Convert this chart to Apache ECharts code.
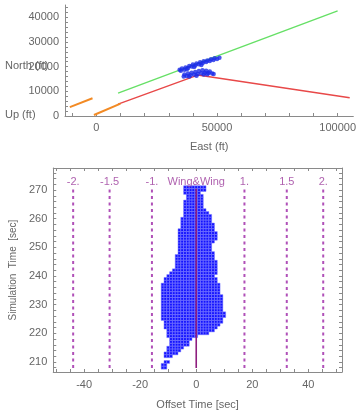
<!DOCTYPE html>
<html><head><meta charset="utf-8">
<script src="https://cdn.jsdelivr.net/npm/echarts@6/dist/echarts.min.js"></script>
<style>html,body{margin:0;padding:0;background:#fff}#c{width:359px;height:411px}</style>
</head><body><div id="c"></div>
<script>
// ---------- Top chart data (East ft, North ft) ----------
const greenTrack = [[9000, 9300], [100000, 42600]];
const redTrack = [[9000, 4800], [42000, 16600], [105000, 7400]];
const orangeLow = [[-1000, 400], [10000, 5000]];
const orangeHigh = [[-11000, 3600], [-1600, 7200]];
const blueUpper = [[34500,18800],[35000,18300],[35500,19300],[36500,18800],[37000,19700],[37500,19000],[38000,19500],[38500,20300],[39500,20100],[40000,20900],[40500,19900],[41000,20500],[41500,21300],[42500,21000],[43000,21800],[43500,20700],[44000,21400],[44500,22200],[45500,21900],[46000,22500],[47000,22300],[47500,23000],[48500,22700],[49000,23400],[50000,23100],[51000,23600]];
const blueLower = [[36200,16000],[36500,16800],[37500,16200],[38000,17200],[38500,16000],[39000,16500],[39500,17500],[40500,16800],[41000,17800],[41500,16300],[42000,17000],[42500,18200],[43500,17300],[44000,18500],[44500,16800],[45000,17500],[45500,18300],[46000,16900],[46500,17400],[47000,18000],[48000,17200],[48600,17000]];
const topXTicks = [-10000,0,10000,20000,30000,40000,50000,60000,70000,80000,90000,100000];
const topXLabels = [0, 50000, 100000];
const topYTicks = [2000,4000,6000,8000,10000,12000,14000,16000,18000,20000,22000,24000,26000,28000,30000,32000,34000,36000,38000,40000,42000,44000];
const topYLabels = [0, 10000, 20000, 30000, 40000];

// ---------- Bottom chart data ----------
// rows of the histogram: simulation time, leftmost offset cell, rightmost offset cell
const rowTime  = [271,270,269,268,267,266,265,264,263,262,261,260,259,258,257,256,255,254,253,252,251,250,249,248,247,246,245,244,243,242,241,240,239,238,237,236,235,234,233,232,231,230,229,228,227,226,225,224,223,222,221,220,219,218,217,216,215,214,213,212,210,209,208];
const rowLeft  = [-4,-4,-4,-3,-3,-4,-4,-4,-4,-4,-4,-5,-5,-5,-5,-6,-6,-6,-6,-6,-6,-6,-6,-6,-7,-7,-7,-7,-7,-8,-9,-10,-11,-11,-12,-12,-12,-12,-12,-12,-12,-12,-12,-12,-12,-12,-12,-11,-11,-11,-10,-10,-10,-9,-9,-9,-10,-10,-11,-11,-11,-12,-12];
const rowRight = [3,3,1,2,2,2,2,2,3,4,5,5,5,6,6,6,7,7,7,6,5,5,5,6,6,6,7,7,7,7,7,6,7,7,8,8,8,8,9,9,9,9,9,9,10,10,9,9,8,7,6,4,0,-2,-3,-3,-5,-6,-7,-9,-10,-11,-11];
const guideOffsets = [-43.9, -30.9, -15.8, 0, 17.2, 32.3, 45.3];
const guideLabels = ["-2.", "-1.5", "-1.", "Wing&Wing", "1.", "1.5", "2."];
const botXLabels = [-40, -20, 0, 20, 40];
const botXTicks = [-50,-45,-40,-35,-30,-25,-20,-15,-10,-5,0,5,10,15,20,25,30,35,40,45,50];
const botYLabels = [210, 220, 230, 240, 250, 260, 270];
const botYTicks = [208,210,212,214,216,218,220,222,224,226,228,230,232,234,236,238,240,242,244,246,248,250,252,254,256,258,260,262,264,266,268,270,272,274,276];

const guideTop = 270.5, guideBottom = 207.9, guideLabelY = 272.8;

const grey = '#666';
const axisLineStyle = {color: '#8a8a8a', width: 1};
const fontFam = 'Liberation Sans, Arial, sans-serif';
const plain = v => String(v);

const chart = echarts.init(document.getElementById('c'), null, {renderer: 'canvas'});

const blobData = rowTime.map((t, i) => [t, rowLeft[i], rowRight[i]]);

const series = [];
function seg(name, data, color, w) {
  series.push({type: 'line', name, xAxisIndex: 0, yAxisIndex: 0, data, symbol: 'none', lineStyle: {color, width: w}, silent: true, z: 3});
}
seg('green', greenTrack, '#66e066', 1.4);
seg('red', redTrack, '#e84848', 1.4);
seg('orangeLow', orangeLow, '#f28a24', 2);
seg('orangeHigh', orangeHigh, '#f28a24', 2);
series.push({type: 'scatter', xAxisIndex: 0, yAxisIndex: 0, data: blueUpper.concat(blueLower), symbol: 'circle', symbolSize: 4.5, itemStyle: {color: '#1c2ce8'}, z: 5, silent: true});

series.push({
  type: 'custom', xAxisIndex: 2, yAxisIndex: 2, data: blobData, encode: {x: [1, 2], y: 0}, z: 2, silent: true,
  renderItem(params, api) {
    const t = api.value(0), l = api.value(1), r = api.value(2);
    const children = [];
    for (let x = l; x <= r; x++) {
      const p0 = api.coord([x - 0.5, t + 0.5]);
      const p1 = api.coord([x + 0.5, t - 0.5]);
      children.push({type: 'rect', shape: {x: p0[0], y: p0[1], width: p1[0] - p0[0], height: p1[1] - p0[1]},
        style: {fill: '#1212ff', stroke: '#8080ff', lineWidth: 0.5}});
    }
    return {type: 'group', children};
  }
});
guideOffsets.forEach((g, i) => {
  const center = guideLabels[i] === 'Wing&Wing';
  series.push({type: 'line', xAxisIndex: 2, yAxisIndex: 2, data: [[g, guideBottom], [g, guideTop]], symbol: 'none', silent: true, z: center ? 6 : 4,
    lineStyle: center ? {color: '#8e1e7e', width: 1.6} : {color: '#b050b8', width: 2, type: [3, 3.5]}});
});
series.push({type: 'scatter', xAxisIndex: 2, yAxisIndex: 2, symbolSize: 0, silent: true, z: 7,
  data: guideOffsets.map(g => [g, guideLabelY]),
  label: {show: true, position: 'inside', formatter: p => guideLabels[p.dataIndex], color: '#9b3a9b', fontSize: 11, fontFamily: fontFam}});

const option = {
  animation: false,
  backgroundColor: '#fff',
  grid: [
    {left: 65, top: 5, width: 294, height: 111},
    {left: 48, top: 168, width: 294, height: 204}
  ],
  xAxis: [
    {gridIndex: 0, type: 'value', min: -13000, max: 106500, position: 'bottom',
      name: 'East (ft)', nameLocation: 'middle', nameGap: 25, nameTextStyle: {color: grey, fontSize: 11, fontFamily: fontFam},
      axisLine: {show: true, onZero: false, lineStyle: axisLineStyle},
      axisTick: {show: true, inside: true, length: 3, customValues: topXTicks, lineStyle: axisLineStyle},
      axisLabel: {customValues: topXLabels, formatter: plain, color: grey, fontSize: 11, fontFamily: fontFam, margin: 6},
      splitLine: {show: false}},
    {gridIndex: 1, type: 'value', min: -51, max: 52, position: 'top',
      axisLine: {show: true, onZero: false, lineStyle: axisLineStyle},
      axisTick: {show: true, inside: true, length: 3, customValues: botXTicks, lineStyle: axisLineStyle},
      axisLabel: {show: false}, splitLine: {show: false}},
    {gridIndex: 1, type: 'value', min: -51, max: 52, position: 'bottom',
      name: 'Offset Time [sec]', nameLocation: 'middle', nameGap: 27, nameTextStyle: {color: grey, fontSize: 11, fontFamily: fontFam},
      axisLine: {show: true, onZero: false, lineStyle: axisLineStyle},
      axisTick: {show: true, inside: true, length: 3, customValues: botXTicks, lineStyle: axisLineStyle},
      axisLabel: {customValues: botXLabels, formatter: plain, color: grey, fontSize: 11, fontFamily: fontFam, margin: 7},
      splitLine: {show: false}}
  ],
  yAxis: [
    {gridIndex: 0, type: 'value', min: 0, max: 45000,
      axisLine: {show: true, onZero: false, lineStyle: axisLineStyle},
      axisTick: {show: true, inside: true, length: 3, customValues: topYTicks, lineStyle: axisLineStyle},
      axisLabel: {customValues: topYLabels, formatter: plain, color: grey, fontSize: 11, fontFamily: fontFam, margin: 6},
      splitLine: {show: false}},
    {gridIndex: 1, type: 'value', min: 206.5, max: 277.7, position: 'right',
      axisLine: {show: true, onZero: false, lineStyle: axisLineStyle},
      axisTick: {show: true, inside: true, length: 3, customValues: botYTicks, lineStyle: axisLineStyle},
      axisLabel: {show: false}, splitLine: {show: false}},
    {gridIndex: 1, type: 'value', min: 206.5, max: 277.7, position: 'left',
      name: 'Simulation  Time  [sec]', nameLocation: 'middle', nameGap: 33, nameRotate: 90, nameTextStyle: {color: grey, fontSize: 10, fontFamily: fontFam},
      axisLine: {show: true, onZero: false, lineStyle: axisLineStyle},
      axisTick: {show: true, inside: true, length: 3, customValues: botYTicks, lineStyle: axisLineStyle},
      axisLabel: {customValues: botYLabels, formatter: plain, color: grey, fontSize: 11, fontFamily: fontFam, margin: 6},
      splitLine: {show: false}}
  ],
  graphic: [
    {type: 'text', left: 5, top: 60, style: {text: 'North (ft)', fill: grey, font: '11px Liberation Sans, Arial, sans-serif'}},
    {type: 'text', left: 5, top: 109, style: {text: 'Up (ft)', fill: grey, font: '11px Liberation Sans, Arial, sans-serif'}}
  ],
  series
};
chart.setOption(option);
</script></body></html>
